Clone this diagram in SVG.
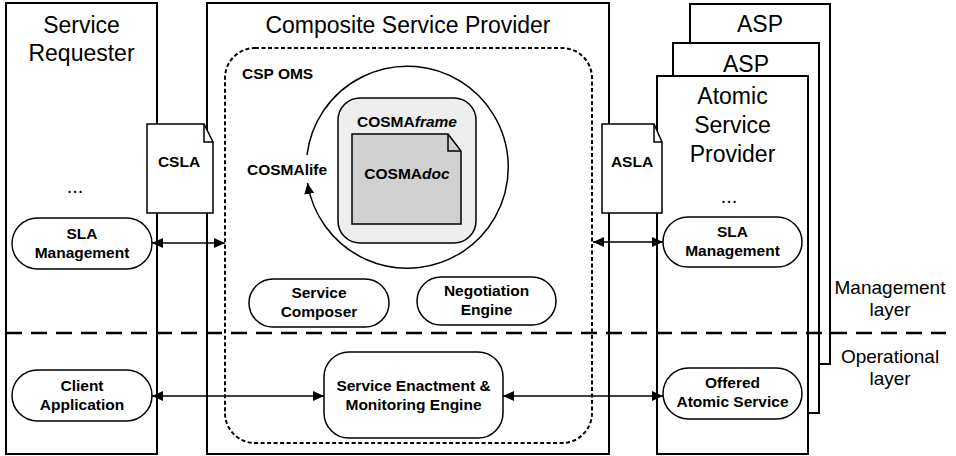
<svg xmlns="http://www.w3.org/2000/svg" width="956" height="456" viewBox="0 0 956 456">
  <defs>
    <marker id="arrow" markerUnits="userSpaceOnUse" markerWidth="11" markerHeight="10" refX="11" refY="5" orient="auto-start-reverse">
      <path d="M0,0 L11,5 L0,10 Z" fill="#000"/>
    </marker>
  </defs>
  <style>
    .box { fill: #fff; stroke: #000; stroke-width: 2; }
    .node { fill: #fff; stroke: #000; stroke-width: 1.5; }
    .doc { fill: #fff; stroke: #000; stroke-width: 1.5; }
    .title { font-family: "Liberation Sans", Arial, sans-serif; font-size: 23px; fill: #000; text-anchor: middle; }
    .side { font-family: "Liberation Sans", Arial, sans-serif; font-size: 19px; fill: #000; text-anchor: middle; }
    .lbl { font-family: "Liberation Sans", Arial, sans-serif; font-size: 15.5px; font-weight: bold; fill: #000; text-anchor: middle; }
    .conn { stroke: #000; stroke-width: 1.5; fill: none; marker-start: url(#arrow); marker-end: url(#arrow); }
  </style>

  <!-- Service Requester -->
  <g id="service-requester">
    <rect class="box" x="6" y="3" width="151" height="451"/>
    <text class="title" x="81.5" y="33">Service</text>
    <text class="title" x="81.5" y="61">Requester</text>
    <text class="title" x="75" y="193" style="font-size:20px">...</text>
  </g>

  <!-- Composite Service Provider -->
  <g id="composite-service-provider">
    <rect class="box" x="207" y="3" width="402" height="451"/>
    <text class="title" x="408" y="33">Composite Service Provider</text>
  </g>

  <!-- Atomic Service Provider stack -->
  <g id="asp-back">
    <rect class="box" x="690" y="4" width="140" height="360"/>
    <text class="title" x="760" y="32">ASP</text>
  </g>
  <g id="asp-middle">
    <rect class="box" x="673" y="43" width="146" height="370"/>
    <text class="title" x="746" y="72">ASP</text>
  </g>
  <g id="atomic-service-provider">
    <rect class="box" x="657" y="76" width="151" height="378"/>
    <text class="title" x="732.5" y="104">Atomic</text>
    <text class="title" x="732.5" y="133">Service</text>
    <text class="title" x="732.5" y="162">Provider</text>
    <text class="title" x="729" y="203" style="font-size:20px">...</text>
  </g>

  <!-- CSP OMS container -->
  <g id="csp-oms">
    <rect x="225" y="48" width="367" height="395" rx="30" ry="30" fill="none" stroke="#000" stroke-width="2" stroke-dasharray="4,2.5"/>
    <text class="lbl" x="242" y="79" style="text-anchor:start">CSP OMS</text>
  </g>

  <!-- COSMAframe with COSMAdoc -->
  <g id="cosma-frame">
    <rect x="338" y="98" width="138" height="145" rx="22" ry="22" fill="#eeeeee" stroke="#000" stroke-width="1.5"/>
    <text class="lbl" x="407" y="127">COSMA<tspan font-style="italic">frame</tspan></text>
  </g>
  <g id="cosma-doc">
    <path d="M352,134 L448,134 L461,151 L461,224 L352,224 Z" fill="#d0d0d0" stroke="#000" stroke-width="1.5"/>
    <path d="M448,134 L448,151 L461,151" fill="none" stroke="#000" stroke-width="1.5"/>
    <text class="lbl" x="407" y="179">COSMA<tspan font-style="italic">doc</tspan></text>
  </g>

  <!-- COSMAlife cycle -->
  <g id="cosma-life">
    <path d="M307,155 A101,101 0 1 1 307.5,183" fill="none" stroke="#000" stroke-width="1.5" marker-end="url(#arrow)"/>
    <text class="lbl" x="287" y="175">COSMAlife</text>
  </g>

  <!-- SLA documents -->
  <g id="csla">
    <path class="doc" d="M147,124 L204,124 L213,142 L213,213 L147,213 Z"/>
    <path d="M204,124 L204,142 L213,142" fill="none" stroke="#000" stroke-width="1.5"/>
    <text class="lbl" x="179" y="167">CSLA</text>
  </g>
  <g id="asla">
    <path class="doc" d="M602,124 L654,124 L662,142 L662,213 L602,213 Z"/>
    <path d="M654,124 L654,142 L662,142" fill="none" stroke="#000" stroke-width="1.5"/>
    <text class="lbl" x="632" y="167">ASLA</text>
  </g>

  <!-- Components -->
  <g id="sla-management-requester">
    <rect class="node" x="12" y="218" width="140" height="51" rx="25.5" ry="25.5"/>
    <text class="lbl" x="82" y="239">SLA</text>
    <text class="lbl" x="82" y="258">Management</text>
  </g>
  <g id="sla-management-asp">
    <rect class="node" x="663" y="217" width="139" height="50" rx="25" ry="25"/>
    <text class="lbl" x="732.5" y="237">SLA</text>
    <text class="lbl" x="732.5" y="256">Management</text>
  </g>
  <g id="service-composer">
    <rect class="node" x="249" y="279" width="140" height="48" rx="24" ry="24"/>
    <text class="lbl" x="319" y="298">Service</text>
    <text class="lbl" x="319" y="317">Composer</text>
  </g>
  <g id="negotiation-engine">
    <rect class="node" x="417" y="277" width="139" height="48" rx="24" ry="24"/>
    <text class="lbl" x="486.5" y="296">Negotiation</text>
    <text class="lbl" x="486.5" y="315">Engine</text>
  </g>
  <g id="client-application">
    <rect class="node" x="12" y="370" width="140" height="51" rx="25.5" ry="25.5"/>
    <text class="lbl" x="82" y="391">Client</text>
    <text class="lbl" x="82" y="410">Application</text>
  </g>
  <g id="service-enactment">
    <rect class="node" x="324" y="352" width="179" height="86" rx="25" ry="25"/>
    <text class="lbl" x="413.5" y="391">Service Enactment &amp;</text>
    <text class="lbl" x="413.5" y="410">Monitoring Engine</text>
  </g>
  <g id="offered-atomic-service">
    <rect class="node" x="663" y="368" width="139" height="51" rx="25.5" ry="25.5"/>
    <text class="lbl" x="732.5" y="388">Offered</text>
    <text class="lbl" x="732.5" y="407">Atomic Service</text>
  </g>

  <!-- Connectors -->
  <g id="connectors">
    <line class="conn" x1="152" y1="243" x2="225" y2="243"/>
    <line class="conn" x1="593" y1="242" x2="663" y2="242"/>
    <line class="conn" x1="152" y1="396" x2="324" y2="396"/>
    <line class="conn" x1="503" y1="396" x2="663" y2="396"/>
  </g>

  <!-- Layer separator and labels -->
  <g id="layers">
    <line x1="6" y1="333" x2="946" y2="333" stroke="#000" stroke-width="2.5" stroke-dasharray="16,9"/>
    <text class="side" x="890" y="294">Management</text>
    <text class="side" x="890" y="316">layer</text>
    <text class="side" x="890" y="363">Operational</text>
    <text class="side" x="890" y="385">layer</text>
  </g>
</svg>
